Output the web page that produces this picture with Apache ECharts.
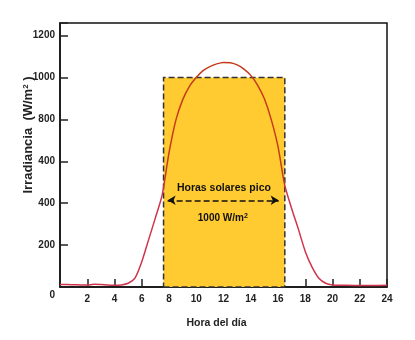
<!DOCTYPE html>
<html>
<head>
<meta charset="utf-8">
<script src="https://cdn.jsdelivr.net/npm/echarts@6/dist/echarts.min.js"></script>
<style>html,body{margin:0;padding:0;background:#fff}#c{width:415px;height:340px}</style>
</head>
<body>
<div id="c"></div>
<script>
// Hours of the day and irradiance (W/m²)
var hours = [0,0.5,1,1.5,2,2.5,3,3.5,4,4.5,5,5.5,6,6.5,7,7.5,8,8.5,9,9.5,10,10.5,11,11.5,12,12.5,13,13.5,14,14.5,15,15.5,16,16.5,17,17.5,18,18.5,19,19.5,20,21,22,23,24];
var irradiance = [12,12,11,10,9,13,12,9,8,10,18,42,120,225,330,440,640,795,893,958,1000,1033,1052,1065,1072,1070,1060,1040,1010,964,898,800,670,485,375,275,170,95,42,18,10,8,7,7,8];
// Peak sun hours box (start hour, end hour, level)
var peakStart = 7.6, peakEnd = 16.5, peakLevel = 1000;
// Arrow and annotation
var arrowFrom = [7.9, 414], arrowTo = [16.05, 414];
var annoTitle = 'Horas solares pico', annoTitlePos = [12.03, 473];
var annoLevelPos = [11.95, 330];
// Tick labels (the reference prints "400" at the 600 tick)
var yTickValues = [0,200,400,600,800,1000,1200];
var yTickLabels = ['0','200','400','400','800','1000','1200'];
var xTickLabels = ['','2','4','6','8','10','12','14','16','18','20','22','24'];

var font = '"Liberation Sans", Arial, sans-serif';
var chart = echarts.init(document.getElementById('c'), null, {renderer:'canvas'});
var data = hours.map(function(h,i){return [h, irradiance[i]];});
chart.setOption({
  animation:false,
  grid:{left:60,right:28,top:23,bottom:53,show:true,borderColor:'#111',borderWidth:1.5,backgroundColor:'transparent'},
  xAxis:{type:'value',min:0,max:24,interval:2,
    axisLine:{show:true,lineStyle:{color:'#111',width:1.5}},
    axisTick:{show:true,inside:true,length:8,lineStyle:{color:'#222',width:1.5}},
    splitLine:{show:false},
    axisLabel:{margin:7,color:'#222',fontFamily:font,fontWeight:'bold',fontSize:10,
      formatter:function(v){return xTickLabels[Math.round(v/2)]||'';}},
    name:'Hora del día',nameLocation:'middle',nameGap:31,nameMoveOverlap:false,
    nameTextStyle:{color:'#222',fontFamily:font,fontWeight:'bold',fontSize:10.5,padding:[0,14,0,0]}
  },
  yAxis:{type:'value',min:0,max:1260,interval:200,
    axisLine:{show:true,lineStyle:{color:'#111',width:1.5}},
    axisTick:{show:true,inside:true,length:8,lineStyle:{color:'#222',width:1.5}},
    splitLine:{show:false},
    axisLabel:{margin:5,color:'#222',fontFamily:font,fontWeight:'bold',fontSize:10,
      formatter:function(v){var i=yTickValues.indexOf(v); if(i<0) return ''; return i===0?'{z|'+yTickLabels[i]+'}':yTickLabels[i];},
      rich:{z:{fontFamily:font,fontWeight:'bold',fontSize:10,color:'#222',padding:[16,0,0,0]}}},
    name:'{t|Irradiancia  (W/m}{s|2}{t| )}',nameLocation:'middle',nameGap:25,nameMoveOverlap:false,
    nameTextStyle:{padding:[0,0,0,40],
      rich:{t:{fontFamily:font,fontWeight:'bold',fontSize:13,color:'#222'},
            s:{fontFamily:font,fontWeight:'bold',fontSize:8,color:'#222',verticalAlign:'top'}}}
  },
  visualMap:{show:false,type:'piecewise',dimension:0,seriesIndex:0,
    pieces:[{lt:peakStart,color:'#D0344C'},{gte:peakStart,lte:peakEnd,color:'#C63A1C'},{gt:peakEnd,color:'#D0344C'}]},
  series:[
    {type:'line',data:data,smooth:0.25,showSymbol:false,z:5,
      lineStyle:{width:1.5},
      markArea:{silent:true,z:1,
        itemStyle:{color:'#FFCB30',borderColor:'#333',borderWidth:1.5,borderType:'dashed'},
        data:[[{coord:[peakStart,0]},{coord:[peakEnd,peakLevel]}]]},
      markLine:{silent:true,symbol:['arrow','arrow'],symbolSize:[7,8],z:6,
        lineStyle:{color:'#111',width:1.5,type:'dashed'},label:{show:false},
        data:[[{coord:arrowFrom},{coord:arrowTo}]]},
      markPoint:{silent:true,symbol:'circle',symbolSize:0,z:7,
        label:{show:true,position:'inside',fontFamily:font,fontWeight:'bold',color:'#111'},
        data:[
          {coord:annoTitlePos,value:0,label:{formatter:annoTitle,fontSize:10.5}},
          {coord:annoLevelPos,value:0,label:{formatter:'{a|'+peakLevel+' W/m}{b|2}',
            rich:{a:{fontFamily:font,fontWeight:'bold',fontSize:10,color:'#111'},b:{fontFamily:font,fontWeight:'bold',fontSize:7,color:'#111',verticalAlign:'top'}}}}
        ]}
    }
  ]
});
</script>
</body>
</html>
